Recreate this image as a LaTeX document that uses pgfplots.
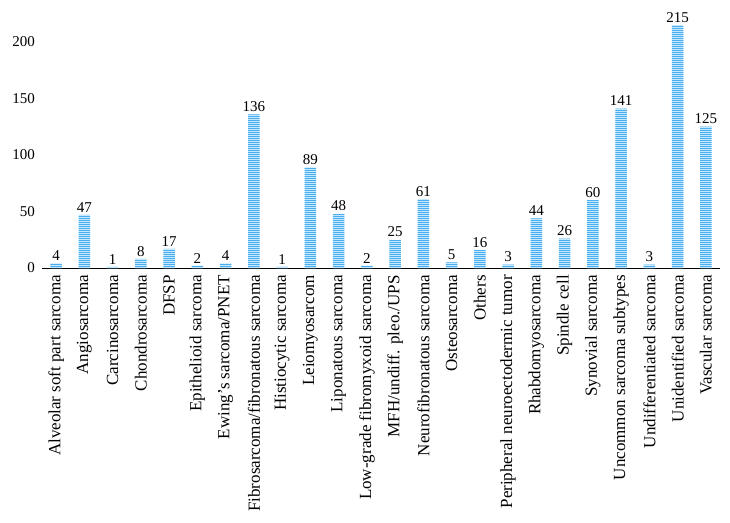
\documentclass[border=0pt]{standalone}
\usepackage{fontspec}
\setmainfont{Liberation Serif}
\usepackage{pgfplots}
\pgfplotsset{compat=1.18}
\usetikzlibrary{patterns.meta}
\definecolor{barline}{HTML}{4AAEF0}
\definecolor{barbase}{HTML}{C6E8FC}
\begin{document}
\begin{tikzpicture}
\useasboundingbox (0,0) rectangle (730pt,522pt);
\begin{axis}[
  at={(42pt,254pt)}, anchor=south west,
  scale only axis,
  width=678pt, height=248.6pt,
  xmin=-0.5, xmax=23.5,
  ymin=0, ymax=220,
  axis x line*=bottom, axis y line*=left,
  y axis line style={draw=none},
  x axis line style={line width=0.8pt},
  ytick={0,50,100,150,200},
  xtick=data,
  xticklabels={Alveolar soft part sarcoma, Angiosarcoma, Carcinosarcoma, Chondrosarcoma, DFSP, Epithelioid sarcoma, Ewing's sarcoma/PNET, Fibrosarcoma/fibronatous sarcoma, Histiocytic sarcoma, Leiomyosarcom, Liponatous sarcoma, Low-grade fibromyxoid sarcoma, MFH/undiff. pleo./UPS, Neurofibronatous sarcoma, Osteosarcoma, Others, Peripheral neuroectodermic tumor, Rhabdomyosarcoma, Spindle cell, Synovial sarcoma, Uncommon sarcoma subtypes, Undifferentiated sarcoma, Unidentified sarcoma, Vascular sarcoma},
  xtick style={draw=none}, ytick style={draw=none},
  major tick length=0pt,
  xticklabel shift=7pt,
  yticklabel shift=7pt,
  xticklabel style={rotate=90, anchor=east, font=\fontsize{17}{18}\selectfont, inner sep=0pt},
  yticklabel style={font=\fontsize{15}{17}\selectfont, inner sep=0pt},
  /pgf/number format/assume math mode=true,
  ybar, bar width=11.5pt,
  nodes near coords,
  every node near coord/.append style={font=\fontsize{15}{17}\selectfont, inner sep=2.5pt},
  clip=false,
]
\addplot[draw=none, fill=barbase, postaction={pattern={Lines[angle=0,distance=2pt,line width=0.9pt]}, pattern color=barline}] coordinates {
(0,4) (1,47) (2,1) (3,8) (4,17) (5,2) (6,4) (7,136) (8,1) (9,89) (10,48) (11,2)
(12,25) (13,61) (14,5) (15,16) (16,3) (17,44) (18,26) (19,60) (20,141) (21,3) (22,215) (23,125)
};
\end{axis}
\end{tikzpicture}
\end{document}
